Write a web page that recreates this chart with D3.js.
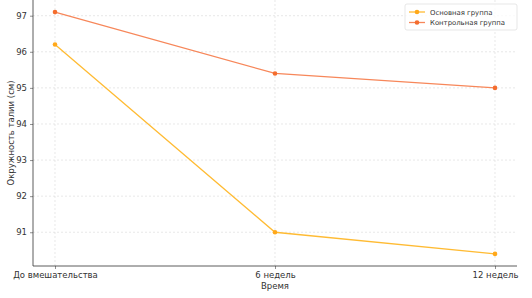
<!DOCTYPE html>
<html><head><meta charset="utf-8">
<script src="https://cdn.jsdelivr.net/npm/d3@7/dist/d3.min.js"></script>
<style>body{margin:0;background:#fff}svg{display:block;font-family:"DejaVu Sans",sans-serif}</style>
</head><body><svg id="c" width="532" height="298"></svg>
<script>
const categories = ["До вмешательства", "6 недель", "12 недель"];
const mainGroup = [96.2, 91.0, 90.4];
const controlGroup = [97.1, 95.4, 95.0];
const seriesNames = ["Основная группа", "Контрольная группа"];
const yTicks = [91, 92, 93, 94, 95, 96, 97];

const svg = d3.select("#c");
const L = 33, R = 517, T = 0, B = 266;
const x = d3.scaleLinear().domain([-0.1, 2.1]).range([L, R]);
const y = d3.scaleLinear().domain([90.065, 97.435]).range([B, T]);

// grid
const g = svg.append("g");
g.selectAll(".gy").data(yTicks).join("line")
  .attr("x1", L).attr("x2", R).attr("y1", d => y(d)).attr("y2", d => y(d))
  .attr("stroke", "#d9d9d9").attr("stroke-width", 0.6).attr("stroke-dasharray", "2,2");
g.selectAll(".gx").data(categories).join("line")
  .attr("x1", (d, i) => x(i)).attr("x2", (d, i) => x(i)).attr("y1", T).attr("y2", B)
  .attr("stroke", "#d9d9d9").attr("stroke-width", 0.6).attr("stroke-dasharray", "2,2");

// axes
const yAxis = d3.axisLeft(y).tickValues(yTicks).tickSize(3).tickPadding(3).tickFormat(d3.format("d"));
const ya = svg.append("g").attr("transform", `translate(${L},0)`).call(yAxis);
const xAxis = d3.axisBottom(x).tickValues([0, 1, 2]).tickSize(3).tickPadding(3).tickFormat(i => categories[i]);
const xa = svg.append("g").attr("transform", `translate(0,${B})`).call(xAxis);
[ya, xa].forEach(a => {
  a.select(".domain").remove();
  a.selectAll("text").attr("font-size", 8.5).attr("fill", "#333").attr("font-family", "DejaVu Sans");
  a.selectAll("line").attr("stroke", "#444").attr("stroke-width", 0.6);
});
svg.append("line").attr("x1", L).attr("x2", L).attr("y1", T).attr("y2", B).attr("stroke", "#333").attr("stroke-width", 0.8);
svg.append("line").attr("x1", L).attr("x2", R).attr("y1", B).attr("y2", B).attr("stroke", "#333").attr("stroke-width", 0.8);

// labels
svg.append("text").attr("x", (L + R) / 2).attr("y", 289).attr("text-anchor", "middle")
  .attr("font-size", 8.5).attr("fill", "#333").text("Время");
svg.append("text").attr("transform", `translate(14,${(T + B) / 2}) rotate(-90)`).attr("text-anchor", "middle")
  .attr("font-size", 8.5).attr("fill", "#333").text("Окружность талии (см)");

// series
const series = [
  {name: seriesNames[0], values: mainGroup, line: "#ffbb33", dot: "#ffa81a"},
  {name: seriesNames[1], values: controlGroup, line: "#f7875a", dot: "#f46d2e"}
];
const lineGen = d3.line().x((d, i) => x(i)).y(d => y(d));
series.forEach(s => {
  svg.append("path").datum(s.values).attr("d", lineGen).attr("fill", "none")
    .attr("stroke", s.line).attr("stroke-width", 1.3);
  svg.selectAll(null).data(s.values).join("circle")
    .attr("cx", (d, i) => x(i)).attr("cy", d => y(d)).attr("r", 2.3).attr("fill", s.dot);
});

// legend
const lg = svg.append("g").attr("transform", "translate(405,4)");
lg.append("rect").attr("width", 112).attr("height", 26).attr("rx", 2)
  .attr("fill", "#fff").attr("fill-opacity", 0.8).attr("stroke", "#ddd").attr("stroke-width", 0.7);
series.forEach((s, i) => {
  const yy = 8 + i * 10.5;
  lg.append("line").attr("x1", 4).attr("x2", 20).attr("y1", yy).attr("y2", yy).attr("stroke", s.line).attr("stroke-width", 1.3);
  lg.append("circle").attr("cx", 12).attr("cy", yy).attr("r", 2.3).attr("fill", s.dot);
  lg.append("text").attr("x", 25).attr("y", yy + 2.5).attr("font-size", 6.9).attr("fill", "#333").text(s.name);
});
</script></body></html>
